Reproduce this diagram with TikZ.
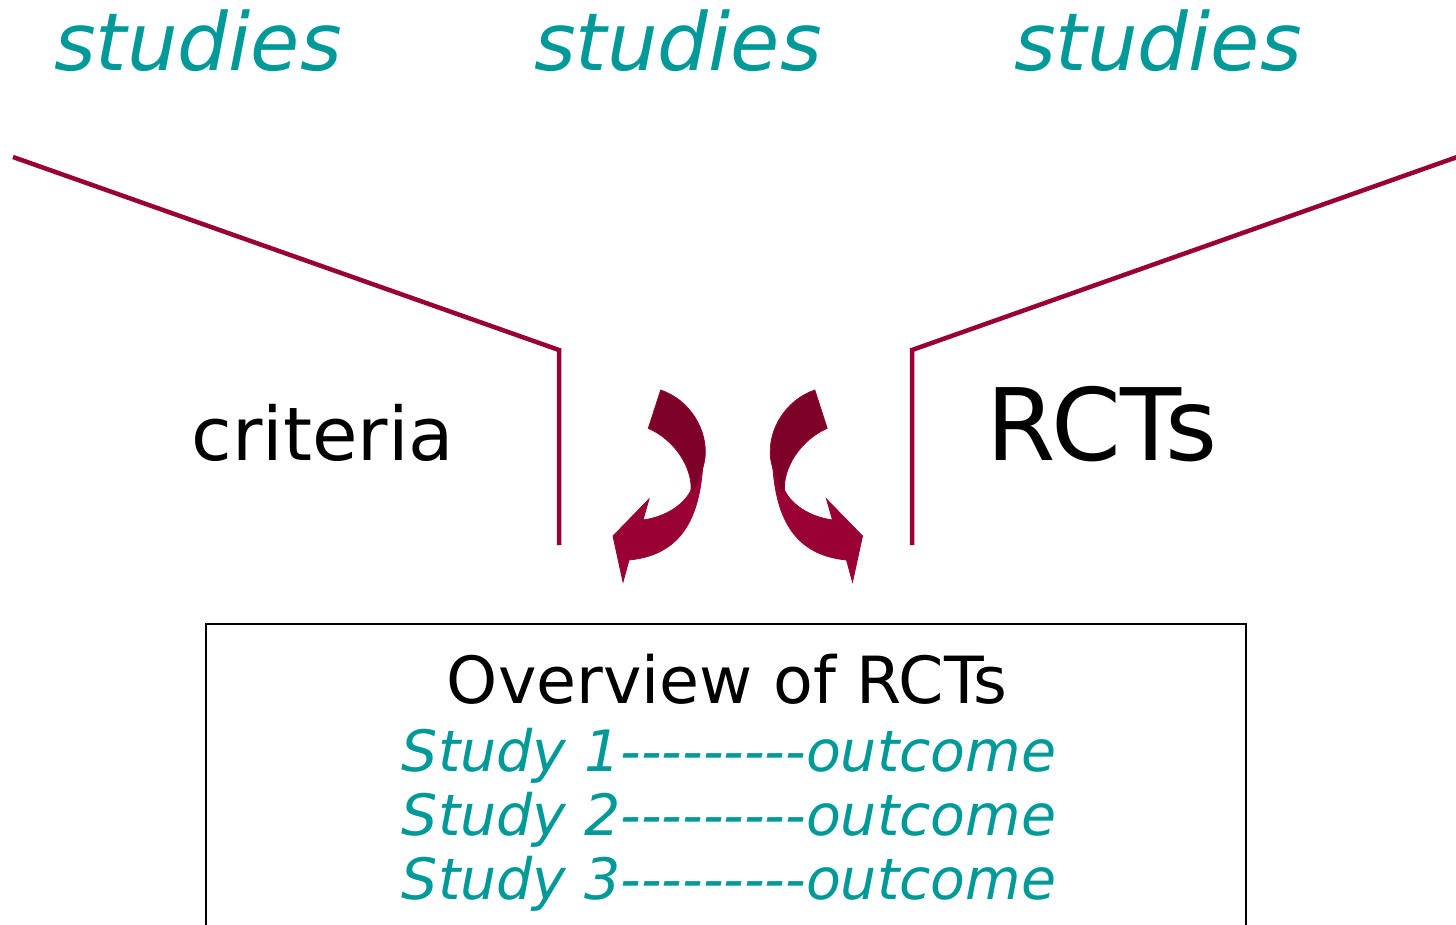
\documentclass[tikz,border=0pt]{standalone}
\usepackage{fontspec}
\setmainfont[Ligatures=TeXOff]{DejaVu Sans}
\definecolor{tealtxt}{HTML}{009999}
\definecolor{wine}{HTML}{990033}
\definecolor{winedark}{HTML}{7D0029}
\newcommand{\ribbonarrow}{%
  \fill[wine, draw=wine, line width=0.8pt]
    (703,462) .. controls (700,520) and (680,555) .. (629,560)
    -- (623,582) -- (613,536) -- (649,499) -- (643,520)
    .. controls (665,517) and (685,505) .. (692,488) -- cycle;
  \fill[winedark, draw=wine, line width=0.8pt]
    (660.7,390) .. controls (690,400) and (708,430) .. (705,458)
    .. controls (703,470) and (699,480) .. (694,492) -- (691,492)
    .. controls (693,468) and (675,440) .. (648.3,428.3) -- cycle;
}
\begin{document}
\begin{tikzpicture}[x=1pt,y=-1pt,
  studiestxt/.style={font=\fontsize{80}{90}\selectfont\itshape, text=tealtxt, anchor=base, inner sep=0pt},
  bigtxt/.style={anchor=base, inner sep=0pt, text=black},
  studytxt/.style={font=\fontsize{57}{64}\selectfont\itshape, text=tealtxt, anchor=base, inner sep=0pt},
  funnel/.style={draw=wine, line width=4.5pt, miter limit=10},
  boxline/.style={draw=black, line width=2pt}]
\useasboundingbox (0,0) rectangle (1456,924);
\clip (0,0) rectangle (1456,924);

% top labels
\node[studiestxt] (s1) at (198,70) {studies};
\node[studiestxt] (s2) at (678,70) {studies};
\node[studiestxt] (s3) at (1158,70) {studies};

% funnel lines
\coordinate (l1) at (13,157);
\coordinate (l2) at (559,350);
\coordinate (l3) at (559,545);
\coordinate (r1) at (1460,156);
\coordinate (r2) at (912,350);
\coordinate (r3) at (912,545);
\draw[funnel] (l1) -- (l2) -- (l3);
\draw[funnel] (r1) -- (r2) -- (r3);

% side labels
\node[bigtxt, font=\fontsize{74}{80}\selectfont] (crit) at (323,460) {criteria};
\node[bigtxt, font=\fontsize{100}{110}\selectfont] (rcts) at (1102,460) {RCTs};

% ribbon arrows
\ribbonarrow
\begin{scope}[xshift=1475.5pt, xscale=-1]
  \ribbonarrow
\end{scope}

% overview box
\coordinate (b1) at (206,624);
\coordinate (b2) at (1246,950);
\draw[boxline] (b1) rectangle (b2);
\node[bigtxt, font=\fontsize{65}{70}\selectfont] (ov) at (727,703) {Overview of RCTs};
\node[studytxt] (st1) at (729,771) {Study 1---------outcome};
\node[studytxt] (st2) at (729,835) {Study 2---------outcome};
\node[studytxt] (st3) at (729,899) {Study 3---------outcome};
\end{tikzpicture}
\end{document}
